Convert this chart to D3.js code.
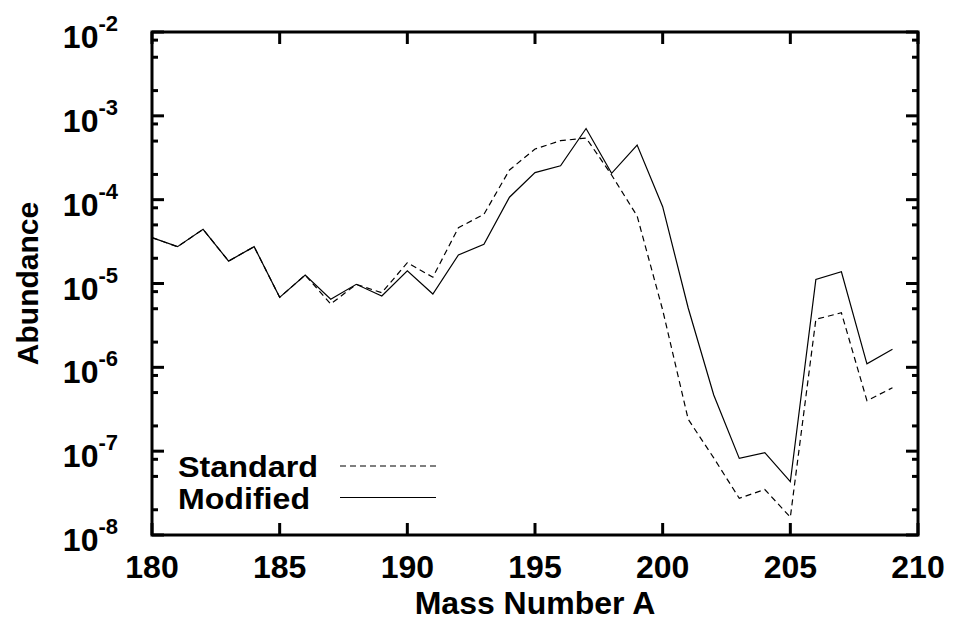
<!DOCTYPE html>
<html>
<head>
<meta charset="utf-8">
<script src="https://cdn.jsdelivr.net/npm/d3@7"></script>
<style>
  html, body { margin: 0; padding: 0; background: #fff; }
  svg text { font-family: "Liberation Sans", Arial, Helvetica, sans-serif; fill: #000; font-weight: bold; }
</style>
</head>
<body>
<svg id="chart" width="954" height="629"></svg>
<script>
// Mass numbers A = 180 ... 209
const massNumbers = d3.range(180, 210);

// Abundances, standard calculation
const standardAbundance = [
  3.52e-5, 2.75e-5, 4.43e-5, 1.85e-5, 2.75e-5, 6.84e-6, 1.26e-5, 5.69e-6, 9.78e-6, 7.76e-6,
  1.77e-5, 1.19e-5, 4.63e-5, 6.69e-5, 2.26e-4, 4.02e-4, 5.05e-4, 5.44e-4, 1.97e-4, 6.38e-5,
  4.83e-6, 2.40e-7, 8.3e-8, 2.74e-8, 3.49e-8, 1.63e-8, 3.74e-6, 4.48e-6, 4.0e-7, 5.71e-7
];

// Abundances, modified calculation
const modifiedAbundance = [
  3.52e-5, 2.75e-5, 4.43e-5, 1.85e-5, 2.75e-5, 6.84e-6, 1.26e-5, 6.48e-6, 9.78e-6, 7.09e-6,
  1.42e-5, 7.5e-6, 2.19e-5, 2.93e-5, 1.07e-4, 2.10e-4, 2.54e-4, 7.06e-4, 2.06e-4, 4.49e-4,
  8.24e-5, 5.1e-6, 4.68e-7, 8.2e-8, 9.6e-8, 4.32e-8, 1.12e-5, 1.38e-5, 1.10e-6, 1.64e-6
];

const xTickValues = [180, 185, 190, 195, 200, 205, 210];
const yExponents = [-2, -3, -4, -5, -6, -7, -8];
const minorMantissas = [2, 5, 8];

const seriesNames = ["Standard", "Modified"];

const svg = d3.select("#chart");
const m = { left: 152, right: 918, top: 32, bottom: 535 };

const x = d3.scaleLinear().domain([180, 210]).range([m.left, m.right]);
const y = d3.scaleLog().domain([1e-8, 1e-2]).range([m.bottom, m.top]);

const plot = svg.append("g");

// data lines
const line = d3.line()
  .x(d => x(d[0]))
  .y(d => y(d[1]));

const series = [
  { name: seriesNames[0], values: standardAbundance, dash: "6,4" },
  { name: seriesNames[1], values: modifiedAbundance, dash: null }
];

series.forEach(s => {
  plot.append("path")
    .datum(massNumbers.map((a, i) => [a, s.values[i]]))
    .attr("d", line)
    .attr("fill", "none")
    .attr("stroke", "#000")
    .attr("stroke-width", 1.2)
    .attr("stroke-dasharray", s.dash);
});

// ticks
const majorLen = 12, minorLen = 6, tickW = 3;
const axes = svg.append("g").attr("stroke", "#000").attr("stroke-width", tickW);

xTickValues.forEach(v => {
  const px = x(v);
  axes.append("line").attr("x1", px).attr("x2", px).attr("y1", m.bottom).attr("y2", m.bottom - majorLen);
  axes.append("line").attr("x1", px).attr("x2", px).attr("y1", m.top).attr("y2", m.top + majorLen);
});

yExponents.forEach(e => {
  const py = y(Math.pow(10, e));
  axes.append("line").attr("x1", m.left).attr("x2", m.left + majorLen).attr("y1", py).attr("y2", py);
  axes.append("line").attr("x1", m.right).attr("x2", m.right - majorLen).attr("y1", py).attr("y2", py);
  if (e > -8) {
    minorMantissas.forEach(k => {
      const my = y(k * Math.pow(10, e - 1));
      axes.append("line").attr("x1", m.left).attr("x2", m.left + minorLen).attr("y1", my).attr("y2", my);
      axes.append("line").attr("x1", m.right).attr("x2", m.right - minorLen).attr("y1", my).attr("y2", my);
    });
  }
});

// frame
svg.append("rect")
  .attr("x", m.left).attr("y", m.top)
  .attr("width", m.right - m.left).attr("height", m.bottom - m.top)
  .attr("fill", "none").attr("stroke", "#000").attr("stroke-width", 3);

// x tick labels
svg.append("g").selectAll("text")
  .data(xTickValues)
  .join("text")
  .attr("x", d => x(d))
  .attr("y", 578)
  .attr("text-anchor", "middle")
  .attr("font-size", 32)
  .text(d => d);

// y tick labels: 10 with superscript exponent
const yl = svg.append("g");
yExponents.forEach(e => {
  const py = y(Math.pow(10, e));
  const t = yl.append("text")
    .attr("x", 118)
    .attr("y", py + 16)
    .attr("text-anchor", "end")
    .attr("font-size", 32);
  t.append("tspan").text("10");
  t.append("tspan")
    .attr("font-size", 22)
    .attr("dy", -17)
    .text(String(e));
});

// axis titles
svg.append("text")
  .attr("x", (m.left + m.right) / 2)
  .attr("y", 614)
  .attr("text-anchor", "middle")
  .attr("font-size", 32)
  .text("Mass Number A");

svg.append("text")
  .attr("transform", "translate(38," + ((m.top + m.bottom) / 2) + ") rotate(-90)")
  .attr("text-anchor", "middle")
  .attr("font-size", 30)
  .text("Abundance");

// legend
const legend = svg.append("g");
series.forEach((s, i) => {
  const ly = 466 + i * 31.5;
  legend.append("text")
    .attr("x", 178)
    .attr("y", ly + 11)
    .attr("text-anchor", "start")
    .attr("font-size", 30)
    .attr("textLength", i === 0 ? 140 : 132)
    .attr("lengthAdjust", "spacingAndGlyphs")
    .text(s.name);
  legend.append("line")
    .attr("x1", 340).attr("x2", 436)
    .attr("y1", ly).attr("y2", ly)
    .attr("stroke", "#000")
    .attr("stroke-width", 1.2)
    .attr("stroke-dasharray", s.dash);
});
</script>
</body>
</html>
